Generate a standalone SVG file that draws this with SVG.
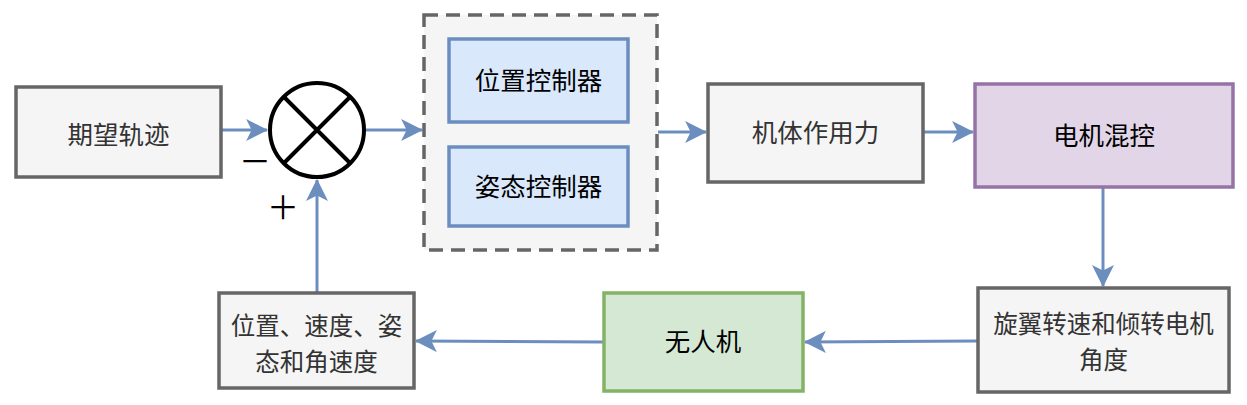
<svg xmlns="http://www.w3.org/2000/svg" width="1247" height="405" viewBox="0 0 1247 405">
<style>
.gray{fill:#f5f5f5;stroke:#666666;stroke-width:3.5}
.blue{fill:#dae8fc;stroke:#6c8ebf;stroke-width:3.5}
.purple{fill:#e1d5e7;stroke:#9673a6;stroke-width:3.5}
.green{fill:#d5e8d4;stroke:#82b366;stroke-width:3.5}
.dash{fill:#f5f5f5;stroke:#666666;stroke-width:3.5;stroke-dasharray:14 8}
.t{font-family:"Noto Sans CJK SC","Noto Sans",sans-serif;font-size:25.5px;text-anchor:middle}
.t2{font-family:"Noto Sans CJK SC","Noto Sans",sans-serif;font-size:24.5px;text-anchor:middle}
.dk{fill:#333333}
.bk{fill:#000000}
.edge{fill:none;stroke:#6c8ebf;stroke-width:3}
</style>
<defs>
<marker id="arr" markerUnits="userSpaceOnUse" markerWidth="22" markerHeight="22" viewBox="0 0 20 20" refX="19" refY="10" orient="auto">
<path d="M0,0 L20,10 L0,20 L5,10 Z" fill="#6c8ebf"/>
</marker>
</defs>
<rect width="1247" height="405" fill="#ffffff"/>
<g id="connectors">
<path class="edge" d="M221,130 L267,130" marker-end="url(#arr)"/>
<path class="edge" d="M365,130 L422,130" marker-end="url(#arr)"/>
<path class="edge" d="M658,132 L706,132" marker-end="url(#arr)"/>
<path class="edge" d="M923,132 L973,132" marker-end="url(#arr)"/>
<path class="edge" d="M1103,187 L1103,286" marker-end="url(#arr)"/>
<path class="edge" d="M978,341 L805,342" marker-end="url(#arr)"/>
<path class="edge" d="M603,342 L416,341" marker-end="url(#arr)"/>
<path class="edge" d="M317,293 L317,180" marker-end="url(#arr)"/>
</g>
<g id="desired">
<rect class="gray" x="16" y="87" width="205" height="90"/>
<text class="t dk" x="118.5" y="144">期望轨迹</text>
</g>
<g id="sum">
<circle cx="317" cy="130" r="47" fill="#ffffff" stroke="#000000" stroke-width="4"/>
<path d="M284,97 L350,163 M350,97 L284,163" stroke="#000000" stroke-width="4"/>
<text x="255" y="173" font-family="Noto Sans CJK SC,sans-serif" font-size="32" text-anchor="middle" fill="#000">－</text>
<text x="283" y="219" font-family="Noto Sans CJK SC,sans-serif" font-size="32" text-anchor="middle" fill="#000">＋</text>
</g>
<g id="controller">
<rect class="dash" x="424" y="15" width="233" height="235"/>
</g>
<g id="position-controller">
<rect class="blue" x="449" y="39" width="179" height="83"/>
<text class="t bk" x="538.5" y="90">位置控制器</text>
</g>
<g id="attitude-controller">
<rect class="blue" x="449" y="147" width="179" height="79"/>
<text class="t bk" x="538.5" y="196">姿态控制器</text>
</g>
<g id="body-force">
<rect class="gray" x="708" y="84" width="215" height="98"/>
<text class="t dk" x="815.5" y="142">机体作用力</text>
</g>
<g id="motor-mix">
<rect class="purple" x="975" y="84" width="258" height="103"/>
<text class="t bk" x="1104" y="145">电机混控</text>
</g>
<g id="rotor">
<rect class="gray" x="978" y="288" width="251" height="104"/>
<text class="t2 dk" x="1103.5" y="333"><tspan x="1103.5" y="333">旋翼转速和倾转电机</tspan><tspan x="1103.5" y="368.5">角度</tspan></text>
</g>
<g id="uav">
<rect class="green" x="604" y="293" width="199" height="98"/>
<text class="t bk" x="703" y="351">无人机</text>
</g>
<g id="state">
<rect class="gray" x="219" y="293" width="195" height="95"/>
<text class="t2 dk" x="316.5" y="335"><tspan x="316.5" y="335">位置、速度、姿</tspan><tspan x="316.5" y="370.5">态和角速度</tspan></text>
</g>
</svg>
